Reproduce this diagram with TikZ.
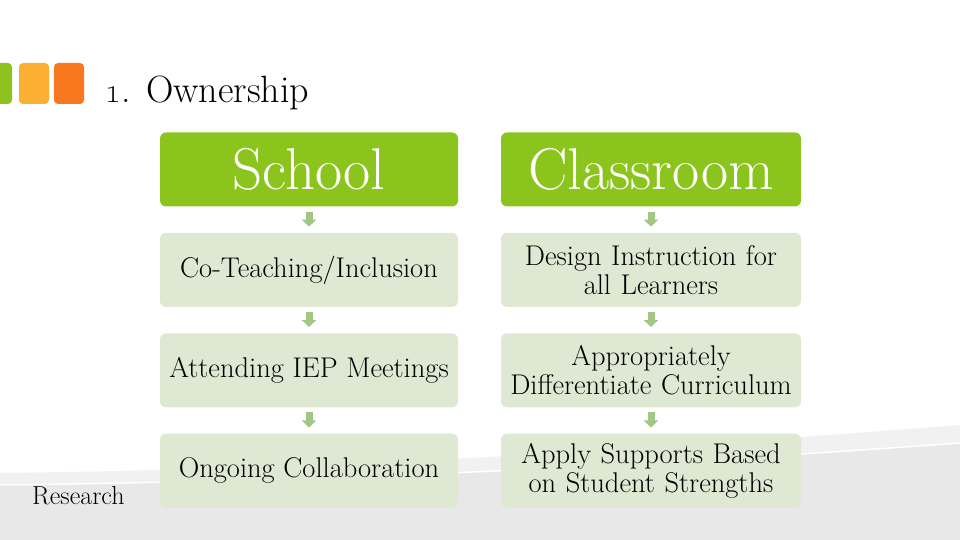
\documentclass[tikz,border=0pt]{standalone}
\usetikzlibrary{positioning,arrows.meta}
\definecolor{greenhead}{HTML}{8CC41E}
\definecolor{greenpale}{HTML}{DEE8D3}
\definecolor{greenarrow}{HTML}{A2C683}
\definecolor{sqgreen}{HTML}{8DC21F}
\definecolor{sqyellow}{HTML}{FBB034}
\definecolor{sqorange}{HTML}{F7781E}
\definecolor{bandlight}{HTML}{F1F1F1}
\definecolor{bandgray}{HTML}{E8E8E8}
\tikzset{
      base/.style = {rounded corners=6pt, inner sep=0pt, align=center},
      head/.style = {base, fill=greenhead, text=white, minimum height=74pt,
                     font=\fontsize{59}{62}\selectfont},
      item/.style = {base, fill=greenpale, minimum height=74pt,
                     font=\fontsize{28.5}{29}\selectfont},
       arr/.style = {-{Triangle[length=7pt,width=14pt]}, line width=7pt,
                     draw=greenarrow, shorten <=5pt, shorten >=6pt},
        }
\begin{document}
\begin{tikzpicture}[x=1pt,y=1pt]
\useasboundingbox (0,0) rectangle (960,540);
% background bands
\fill[bandlight] (0,67) .. controls (400,72) and (700,95) .. (960,115) -- (960,0) -- (0,0) -- cycle;
\fill[bandgray] (0,55) .. controls (400,60) and (700,78) .. (960,97) -- (960,0) -- (0,0) -- cycle;
\draw[white, line width=1.5pt] (0,55) .. controls (400,60) and (700,78) .. (960,97);
% title squares
\foreach \x/\c in {-18/sqgreen, 19/sqyellow, 54/sqorange}
  \fill[\c, rounded corners=4pt] (\x,436) rectangle ++(30,41);
\node[anchor=base west, inner sep=0pt, font=\fontsize{38}{40}\selectfont] (title) at (105,437) {\oldstylenums{1}. Ownership};
% columns
\node[head, minimum width=298pt] (sch) at (309,370.5) {School};
\node[head, minimum width=300pt] (cls) at (651,370.5) {Classroom};
\node[item, minimum width=298pt, below=26pt of sch] (s1) {Co-Teaching/Inclusion};
\node[item, minimum width=298pt, below=26pt of s1] (s2) {Attending IEP Meetings};
\node[item, minimum width=298pt, below=26pt of s2] (s3) {Ongoing Collaboration};
\node[item, minimum width=300pt, text width=298pt, below=26pt of cls] (c1) {Design Instruction for\\all Learners};
\node[item, minimum width=300pt, text width=298pt, below=26pt of c1] (c2) {Appropriately\\Differentiate Curriculum};
\node[item, minimum width=300pt, text width=298pt, below=26pt of c2] (c3) {Apply Supports Based\\on Student Strengths};
\draw[arr] (sch) -- (s1);
\draw[arr] (s1) -- (s2);
\draw[arr] (s2) -- (s3);
\draw[arr] (cls) -- (c1);
\draw[arr] (c1) -- (c2);
\draw[arr] (c2) -- (c3);
\node[anchor=base west, inner sep=0pt, font=\fontsize{26}{28}\selectfont] (res) at (32,35) {Research};
\end{tikzpicture}
\end{document}
